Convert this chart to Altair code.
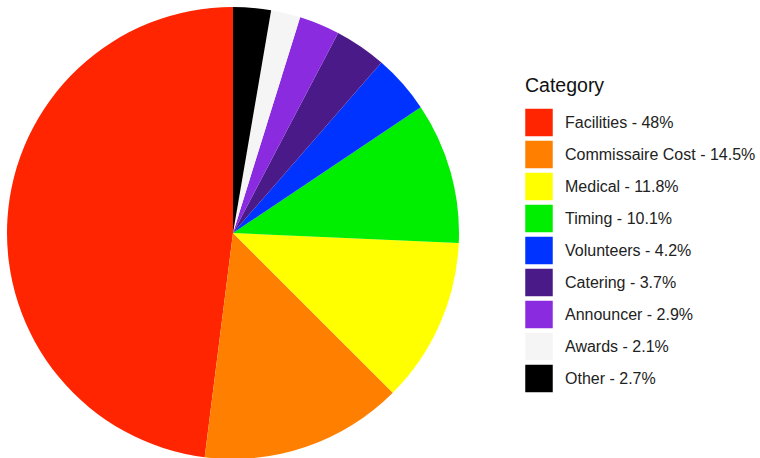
import altair as alt
import pandas as pd

categories = ["Facilities", "Commissaire Cost", "Medical", "Timing", "Volunteers",
              "Catering", "Announcer", "Awards", "Other"]
shares = [48, 14.5, 11.8, 10.1, 4.2, 3.7, 2.9, 2.1, 2.7]
colors = ["#FF2500", "#FF8000", "#FFFF00", "#00EE00", "#0033FF",
          "#4A1A88", "#8B2BE0", "#F5F5F5", "#000000"]

labels = [f"{c} - {s:g}%" for c, s in zip(categories, shares)]
df = pd.DataFrame({"label": labels, "share": shares, "idx": list(range(len(labels)))})

chart = alt.Chart(df).mark_arc(strokeWidth=0).encode(
    theta=alt.Theta("share:Q", stack=True),
    order=alt.Order("idx:Q", sort="descending"),
    color=alt.Color(
        "label:N",
        scale=alt.Scale(domain=labels, range=colors),
        legend=alt.Legend(
            title="Category", orient="none", legendX=525, legendY=77,
            symbolType="square", symbolSize=756, symbolStrokeWidth=0,
            rowPadding=4, labelOffset=12, titlePadding=12,
            titleFontSize=19.5, titleFontWeight="normal", titleFont="Liberation Sans",
            titleColor="#111", labelFont="Liberation Sans", labelFontSize=16,
            labelColor="#222", labelLimit=300,
        ),
    ),
    x=alt.value(233), y=alt.value(233), radius=alt.value(226),
).properties(
    width=760, height=458, padding=0,
    autosize=alt.AutoSizeParams(type="none"),
).configure_view(stroke=None)

chart.save("out.html", embed_options={"renderer": "svg", "actions": False})
